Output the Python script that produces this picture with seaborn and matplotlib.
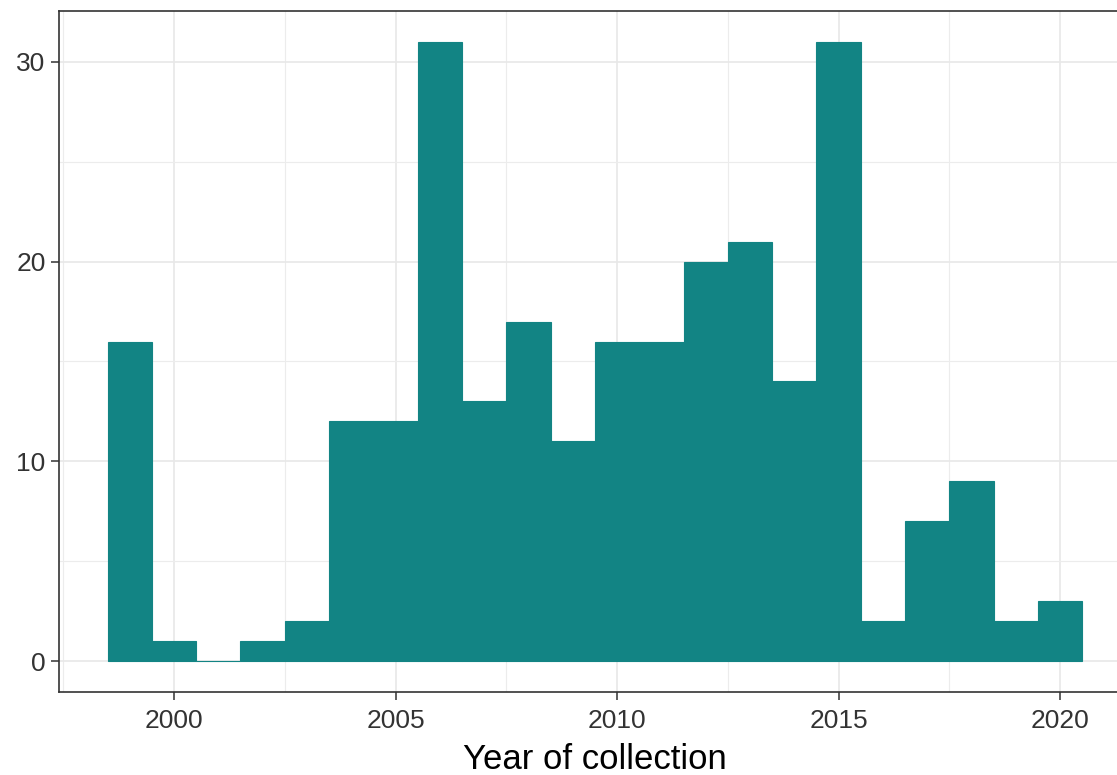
import numpy as np
import pandas as pd
import matplotlib
matplotlib.use("Agg")
import matplotlib.pyplot as plt
import seaborn as sns
from matplotlib.ticker import MultipleLocator

years = [1999, 2000, 2001, 2002, 2003, 2004, 2005, 2006, 2007, 2008, 2009,
         2010, 2011, 2012, 2013, 2014, 2015, 2016, 2017, 2018, 2019, 2020]
counts = [16, 1, 0, 1, 2, 12, 12, 31, 13, 17, 11,
          16, 16, 20, 21, 14, 31, 2, 7, 9, 2, 3]
x_ticks = [2000, 2005, 2010, 2015, 2020]
y_ticks = [0, 10, 20, 30]
x_label = "Year of collection"
bar_color = "#128484"

# one row per collected sample
df = pd.DataFrame({"year": np.repeat(years, counts).astype(float)})

sns.set_style("white")
plt.rcParams['font.family'] = ['Liberation Sans', 'DejaVu Sans']

fig = plt.figure(figsize=(11.17, 7.75), dpi=100)
ax = fig.add_axes([58.8 / 1117, (775 - 692) / 775, (1131 - 58.8) / 1117, (692 - 11) / 775])

bins = np.arange(min(years) - 0.5, max(years) + 1.5, 1)
sns.histplot(data=df, x="year", bins=bins, ax=ax,
             color=bar_color, edgecolor=bar_color, linewidth=0.8, alpha=1,
             zorder=3)

ax.set_xlim(1997.4, 2021.6)
ax.set_ylim(-1.55, 32.55)
ax.set_xticks(x_ticks)
ax.set_yticks(y_ticks)
ax.xaxis.set_minor_locator(MultipleLocator(2.5))
ax.yaxis.set_minor_locator(MultipleLocator(5))
ax.grid(True, which="major", color="#e8e8e8", linewidth=1.2, zorder=0)
ax.grid(True, which="minor", color="#ececec", linewidth=0.8, zorder=0)
ax.set_axisbelow(True)

for s in ax.spines.values():
    s.set_color("#333333")
    s.set_linewidth(1.2)
    s.set_visible(True)

ax.tick_params(axis="both", which="major", length=5.5, width=1.1,
               color="#333333", labelsize=19, labelcolor="#333333",
               direction="out", left=True, bottom=True)
ax.tick_params(axis="x", pad=7)
ax.tick_params(axis="y", pad=4)
ax.tick_params(which="minor", length=0)

ax.set_ylabel("")
ax.set_xlabel(x_label, fontsize=25, color="black", labelpad=7)

fig.savefig("out.png", dpi=100)
